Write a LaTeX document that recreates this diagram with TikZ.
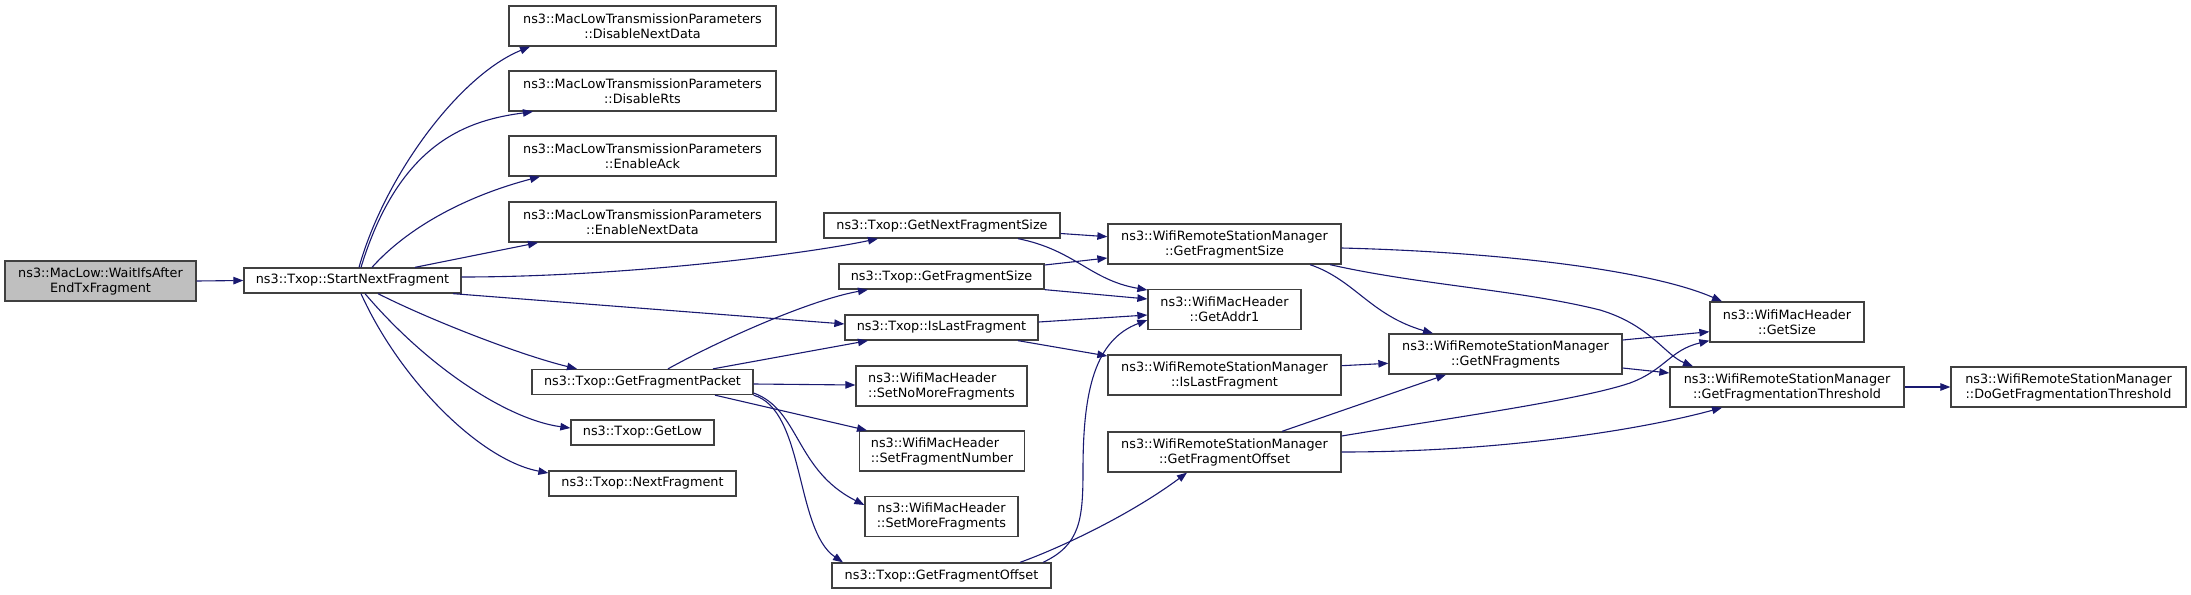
\documentclass[tikz,border=0pt]{standalone}
\usepackage{fontspec}
\setmainfont{DejaVu Sans}
\usetikzlibrary{arrows.meta,calc}
\definecolor{edgec}{HTML}{191970}
\definecolor{bordc}{HTML}{404040}
\definecolor{startc}{HTML}{BFBFBF}
\tikzset{
  fn/.style={draw=bordc, line width=1.3pt, fill=white, inner sep=0pt,
    font=\fontsize{12.8}{15}\selectfont, align=center, minimum height=25pt},
  fntwo/.style={fn, minimum height=40pt},
  ed/.style={draw=edgec, line width=1.1pt, -{Triangle[length=10pt,width=7.5pt]}}
}
\begin{document}
\begin{tikzpicture}[x=1pt,y=-1pt]
\useasboundingbox (0,0) rectangle (2191,594);
% nodes
\node[fntwo, fill=startc, minimum width=191pt] (wait) at (100.5,281) {ns3::MacLow::WaitIfsAfter\\EndTxFragment};
\node[fn, minimum width=217pt] (snf) at (352.5,280.5) {ns3::Txop::StartNextFragment};
\node[fntwo, minimum width=267pt] (dnd) at (642.5,26) {ns3::MacLowTransmissionParameters\\::DisableNextData};
\node[fntwo, minimum width=267pt] (drts) at (642.5,91) {ns3::MacLowTransmissionParameters\\::DisableRts};
\node[fntwo, minimum width=267pt] (eack) at (642.5,156) {ns3::MacLowTransmissionParameters\\::EnableAck};
\node[fntwo, minimum width=267pt] (enext) at (642.5,222) {ns3::MacLowTransmissionParameters\\::EnableNextData};
\node[fn, minimum width=236pt] (gnfs) at (942,225.5) {ns3::Txop::GetNextFragmentSize};
\node[fn, minimum width=205pt] (tgfs) at (941.5,276.5) {ns3::Txop::GetFragmentSize};
\node[fn, minimum width=193pt] (tilf) at (941.5,327.5) {ns3::Txop::IsLastFragment};
\node[fn, minimum width=221pt] (gfp) at (642.5,382) {ns3::Txop::GetFragmentPacket};
\node[fntwo, align=left, minimum width=171pt] (snmf) at (941.5,386) {ns3::WifiMacHeader\\::SetNoMoreFragments};
\node[fn, minimum width=143pt] (glow) at (642.5,432.5) {ns3::Txop::GetLow};
\node[fntwo, align=left, minimum width=165pt] (sfn) at (942,451) {ns3::WifiMacHeader\\::SetFragmentNumber};
\node[fn, minimum width=187pt] (nf) at (642.5,483.5) {ns3::Txop::NextFragment};
\node[fntwo, minimum width=153pt] (smf) at (941.5,516.5) {ns3::WifiMacHeader\\::SetMoreFragments};
\node[fn, minimum width=219pt] (tgfo) at (941.5,575.5) {ns3::Txop::GetFragmentOffset};
\node[fntwo, minimum width=233pt] (wgfs) at (1224.5,244) {ns3::WifiRemoteStationManager\\::GetFragmentSize};
\node[fntwo, minimum width=153pt] (addr) at (1224.5,309.5) {ns3::WifiMacHeader\\::GetAddr1};
\node[fntwo, minimum width=233pt] (wilf) at (1224.5,375) {ns3::WifiRemoteStationManager\\::IsLastFragment};
\node[fntwo, minimum width=233pt] (wgfo) at (1224.5,452) {ns3::WifiRemoteStationManager\\::GetFragmentOffset};
\node[fntwo, minimum width=233pt] (gnf) at (1505.5,354) {ns3::WifiRemoteStationManager\\::GetNFragments};
\node[fntwo, minimum width=154pt] (gsize) at (1787,322) {ns3::WifiMacHeader\\::GetSize};
\node[fntwo, minimum width=234pt] (gft) at (1787,387) {ns3::WifiRemoteStationManager\\::GetFragmentationThreshold};
\node[fntwo, minimum width=235pt] (dgft) at (2068.5,387) {ns3::WifiRemoteStationManager\\::DoGetFragmentationThreshold};
% edges
\draw[ed] (wait.east) -- (snf.west);
\draw[ed] ($(snf.north)+(6.5,0)$) .. controls (385,175) and (460,75) .. ($(dnd.south)+(-112.5,0)$);
\draw[ed] ($(snf.north)+(8.5,0)$) .. controls (400,140) and (470,120) .. ($(drts.south)+(-109.5,0)$);
\draw[ed] ($(snf.north)+(19.5,0)$) .. controls (410,225) and (470,195) .. ($(eack.south)+(-102.5,0)$);
\draw[ed] ($(snf.north)+(62.5,0)$) -- ($(enext.south)+(-104.5,0)$);
\draw[ed] ($(snf.east)+(0,-3.5)$) .. controls (620,277) and (800,255) .. ($(gnfs.south)+(-64,0)$);
\draw[ed] ($(snf.south)+(100.5,0)$) -- ($(tilf.west)+(0,-3.5)$);
\draw[ed] ($(snf.south)+(25.5,0)$) .. controls (430,320) and (520,355) .. ($(gfp.north)+(-65.5,0)$);
\draw[ed] ($(snf.south)+(12.5,0)$) .. controls (430,370) and (510,420) .. ($(glow.west)+(0,-4.5)$);
\draw[ed] ($(snf.south)+(8.5,0)$) .. controls (400,380) and (480,460) .. ($(nf.west)+(0,-10.5)$);
\draw[ed] ($(gfp.north)+(25.5,0)$) .. controls (720,340) and (810,300) .. ($(tgfs.south)+(-73.5,0)$);
\draw[ed] ($(gfp.north)+(70.5,0)$) -- ($(tilf.south)+(-73.5,0)$);
\draw[ed] ($(gfp.east)+(0,2)$) -- ($(snmf.west)+(0,-1)$);
\draw[ed] ($(gfp.south)+(72.5,0)$) -- ($(sfn.north)+(-75,0)$);
\draw[ed] ($(gfp.east)+(0,11)$) .. controls (800,410) and (795,470) .. ($(smf.west)+(0,-11.5)$);
\draw[ed] (gfp.south east) .. controls (805,410) and (795,530) .. ($(tgfo.north)+(-98.5,0)$);
\draw[ed] ($(gnfs.east)+(0,8)$) -- ($(wgfs.west)+(0,-7.3)$);
\draw[ed] ($(gnfs.south)+(76,0)$) .. controls (1075,250) and (1090,280) .. ($(addr.west)+(0,-19.5)$);
\draw[ed] ($(tgfs.east)+(0,-11.5)$) -- ($(wgfs.west)+(0,14)$);
\draw[ed] (tgfs.south east) -- ($(addr.west)+(0,-10.5)$);
\draw[ed] ($(tilf.east)+(0,-5.5)$) -- ($(addr.west)+(0,5.5)$);
\draw[ed] ($(tilf.south)+(76.5,0)$) -- ($(wilf.west)+(0,-19)$);
\draw[ed] ($(tgfo.north)+(101.5,0)$) .. controls (1080,545) and (1083,520) .. (1083,470) .. controls (1083,390) and (1095,340) .. ($(addr.west)+(0,10.5)$);
\draw[ed] ($(tgfo.north)+(78.5,0)$) .. controls (1060,548) and (1130,515) .. ($(wgfo.south)+(-37.5,0)$);
\draw[ed] ($(wgfs.east)+(0,4)$) .. controls (1500,252) and (1650,270) .. ($(gsize.north)+(-65,0)$);
\draw[ed] ($(wgfs.south)+(85.5,0)$) .. controls (1355,280) and (1370,315) .. ($(gnf.north)+(-72.5,0)$);
\draw[ed] ($(wgfs.south)+(105.5,0)$) .. controls (1420,285) and (1520,290) .. (1600,310) .. controls (1650,325) and (1665,355) .. ($(gft.north)+(-94,0)$);
\draw[ed] ($(wilf.east)+(0,-9.3)$) -- ($(gnf.west)+(0,9.3)$);
\draw[ed] ($(wgfo.north)+(57.5,0)$) -- ($(gnf.south)+(-59.5,0)$);
\draw[ed] ($(wgfo.east)+(0,-16)$) .. controls (1450,418) and (1580,400) .. (1630,383) .. controls (1665,370) and (1670,350) .. ($(gsize.south west)+(0,-2)$);
\draw[ed] (wgfo.east) .. controls (1500,452) and (1640,430) .. ($(gft.south)+(-65,0)$);
\draw[ed] ($(gnf.east)+(0,-14)$) -- ($(gsize.west)+(0,9.7)$);
\draw[ed] ($(gnf.east)+(0,14)$) -- ($(gft.west)+(0,-14)$);
\draw[ed] (gft.east) -- (dgft.west);
\end{tikzpicture}
\end{document}
